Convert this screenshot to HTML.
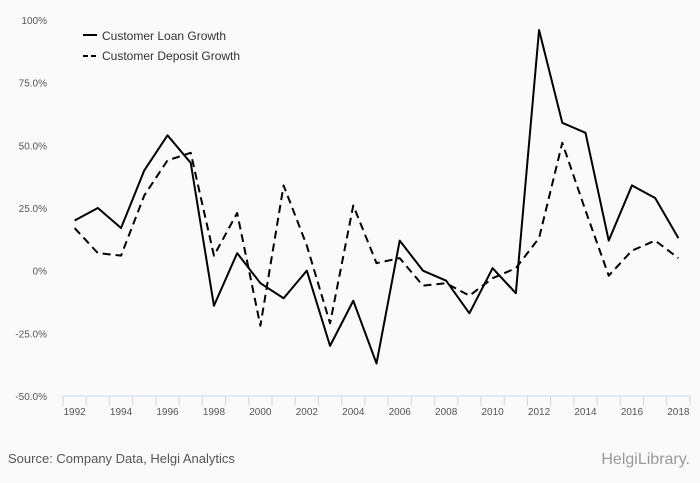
<!DOCTYPE html>
<html><head><meta charset="utf-8"><style>
body{margin:0;background:#fafafa;font-family:"Liberation Sans",sans-serif;}
svg{display:block}
</style></head><body>
<svg id="chart" width="700" height="483">
<rect width="700" height="483" fill="#fafafa"/>
<g id="yaxis"></g>
<g id="xaxis"></g>
<g id="series"></g>
<g>
<g>
<line x1="83" y1="35" x2="97" y2="35" stroke="#000" stroke-width="2"/>
<text x="102" y="40" font-size="12" fill="#333">Customer Loan Growth</text></g>
<g>
<line x1="83" y1="56" x2="97" y2="56" stroke="#000" stroke-width="2" stroke-dasharray="5,3"/>
<text x="102" y="60" font-size="12" fill="#333">Customer Deposit Growth</text></g>
</g>
<text x="8" y="463" font-size="13" fill="#555">Source: Company Data, Helgi Analytics</text>
<text x="690" y="464" font-size="16" fill="#999" text-anchor="end">HelgiLibrary.</text>
</svg>
<script>
const years=[1992,1993,1994,1995,1996,1997,1998,1999,2000,2001,2002,2003,2004,2005,2006,2007,2008,2009,2010,2011,2012,2013,2014,2015,2016,2017,2018];
const loanGrowth=[20,25,17,40,54,43,-14,7,-5,-11,0,-30,-12,-37,12,0,-4,-17,1,-9,96,59,55,12,34,29,13];
const depositGrowth=[17,7,6,30,44,47,6,23,-22,34,10,-21,26,3,5,-6,-5,-10,-3,1,13,51,24,-2,8,12,5];
const yTicks=[-50,-25,0,25,50,75,100];
const yTickLabels=["-50.0%","-25.0%","0%","25.0%","50.0%","75.0%","100%"];
const NS="http://www.w3.org/2000/svg";
const x0=63,x1=690,y0=396,y1=20,band=(x1-x0)/years.length;
const xs=i=>x0+band*(i+0.5);
const ys=v=>y0-(v+50)/150*(y0-y1);
function mk(t,a,p){const e=document.createElementNS(NS,t);for(const k in a)e.setAttribute(k,a[k]);p.appendChild(e);return e;}
const ya=document.getElementById('yaxis');
yTicks.forEach((v,i)=>{
 const t=mk('text',{x:47,y:ys(v)+4,'font-size':10,fill:'#555','text-anchor':'end'},ya);
 
 
 t.textContent=yTickLabels[i];
});
const xa=document.getElementById('xaxis');
const ax=mk('line',{x1:x0,y1:y0,x2:x1,y2:y0,stroke:'#ccd6eb'},xa);


for(let i=0;i<=years.length;i++){
 const tk=mk('line',{x1:x0+band*i,y1:y0,x2:x0+band*i,y2:y0+10,stroke:'#ccd6eb'},xa);
 
 
}
years.forEach((y,i)=>{if(i%2)return;
 const t=mk('text',{x:xs(i),y:415,'font-size':10,fill:'#555','text-anchor':'middle'},xa);
 
 
 t.textContent=y;
});
const sg=document.getElementById('series');
const p1=mk('polyline',{points:loanGrowth.map((v,i)=>xs(i)+','+ys(v)).join(' '),fill:'none',stroke:'#000','stroke-width':2,'stroke-linejoin':'round'},sg);


const p2=mk('polyline',{points:depositGrowth.map((v,i)=>xs(i)+','+ys(v)).join(' '),fill:'none',stroke:'#000','stroke-width':2,'stroke-dasharray':'8,5','stroke-linejoin':'round'},sg);


</script>
</body></html>
